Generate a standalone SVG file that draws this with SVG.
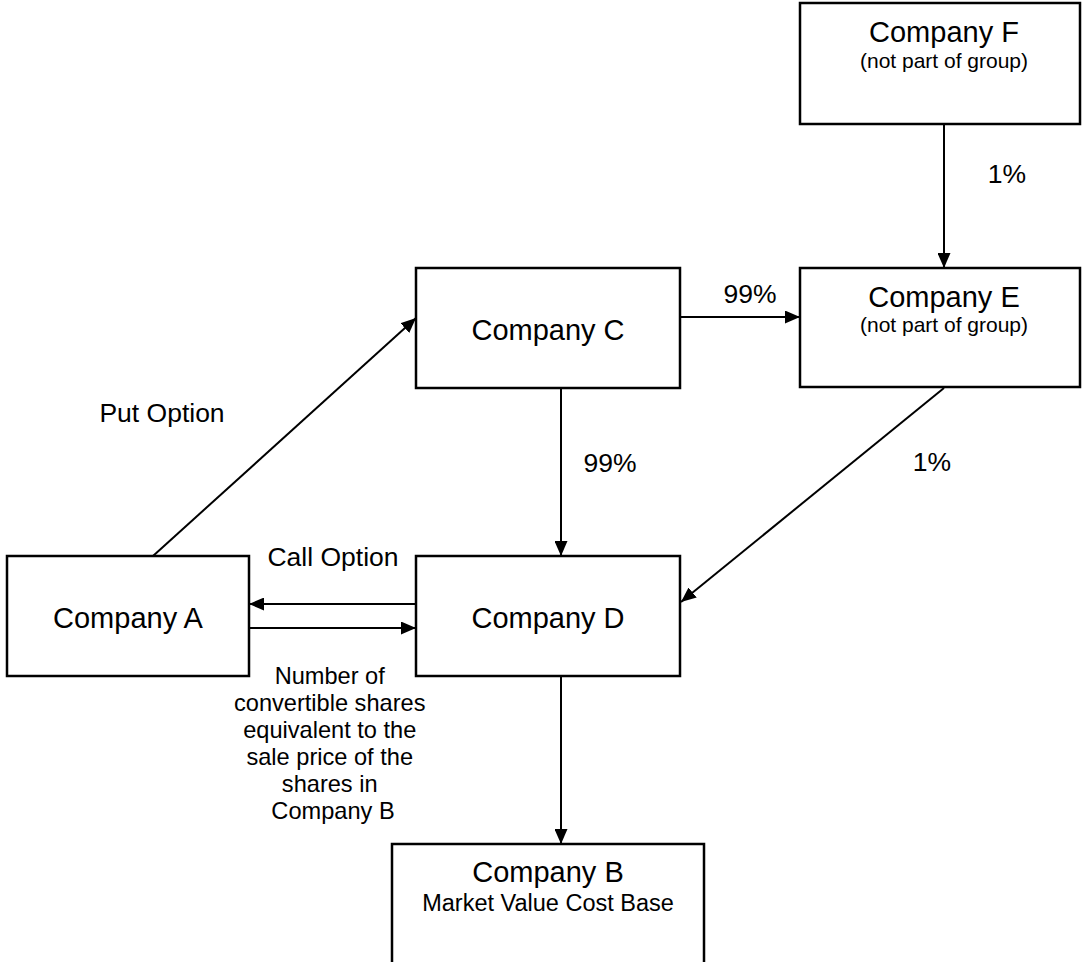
<svg xmlns="http://www.w3.org/2000/svg" width="1082" height="962" viewBox="0 0 1082 962">
<style>
.box{fill:#fff;stroke:#000;stroke-width:2.5}
.t{font-family:"Liberation Sans",Arial,sans-serif;font-size:29px;text-anchor:middle;fill:#000}
.s{font-family:"Liberation Sans",Arial,sans-serif;font-size:21px;text-anchor:middle;fill:#000}
.b{font-family:"Liberation Sans",Arial,sans-serif;font-size:23.5px;text-anchor:middle;fill:#000}
.l{font-family:"Liberation Sans",Arial,sans-serif;font-size:26.5px;text-anchor:middle;fill:#000}
.m{font-family:"Liberation Sans",Arial,sans-serif;font-size:23.6px;text-anchor:middle;fill:#000}
.c{stroke:#000;stroke-width:2;fill:none;marker-end:url(#ah)}
</style>
<defs>
<marker id="ah" viewBox="0 0 10 10" refX="10" refY="5" markerWidth="15" markerHeight="13" markerUnits="userSpaceOnUse" orient="auto" preserveAspectRatio="none">
<path d="M0,0 L10,5 L0,10 z" fill="#000"/>
</marker>
</defs>
<rect width="1082" height="962" fill="#fff"/>
<g id="connectors">
<line class="c" x1="944" y1="124" x2="944" y2="268"/>
<line class="c" x1="680" y1="317" x2="800" y2="317"/>
<line class="c" x1="561" y1="388" x2="561" y2="556"/>
<line class="c" x1="944" y1="388" x2="681" y2="602"/>
<line class="c" x1="153" y1="556" x2="416" y2="318"/>
<line class="c" x1="416" y1="604" x2="249" y2="604"/>
<line class="c" x1="249" y1="628" x2="416" y2="628"/>
<line class="c" x1="561" y1="676" x2="561" y2="844"/>
<text class="l" x="1007" y="183">1%</text>
<text class="l" x="750" y="303">99%</text>
<text class="l" x="610" y="472">99%</text>
<text class="l" x="932" y="471">1%</text>
<text class="l" x="162" y="422">Put Option</text>
<text class="l" x="333" y="566">Call Option</text>
<text class="m">
<tspan x="333" y="684">Number of</tspan>
<tspan x="333" y="711">convertible shares</tspan>
<tspan x="333" y="738">equivalent to the</tspan>
<tspan x="333" y="765">sale price of the</tspan>
<tspan x="333" y="792">shares in</tspan>
<tspan x="333" y="819">Company B</tspan>
</text>
</g>
<g id="companyF">
<rect class="box" x="800" y="3" width="280" height="121"/>
<text class="t" x="944" y="42">Company F</text>
<text class="s" x="944" y="68">(not part of group)</text>
</g>
<g id="companyE">
<rect class="box" x="800" y="268" width="280" height="119"/>
<text class="t" x="944" y="307">Company E</text>
<text class="s" x="944" y="332">(not part of group)</text>
</g>
<g id="companyC">
<rect class="box" x="416" y="268" width="264" height="120"/>
<text class="t" x="548" y="340">Company C</text>
</g>
<g id="companyA">
<rect class="box" x="7" y="556" width="242" height="120"/>
<text class="t" x="128" y="628">Company A</text>
</g>
<g id="companyD">
<rect class="box" x="416" y="556" width="264" height="120"/>
<text class="t" x="548" y="628">Company D</text>
</g>
<g id="companyB">
<rect class="box" x="392" y="844" width="312" height="130"/>
<text class="t" x="548" y="882">Company B</text>
<text class="b" x="548" y="911">Market Value Cost Base</text>
</g>
</svg>
